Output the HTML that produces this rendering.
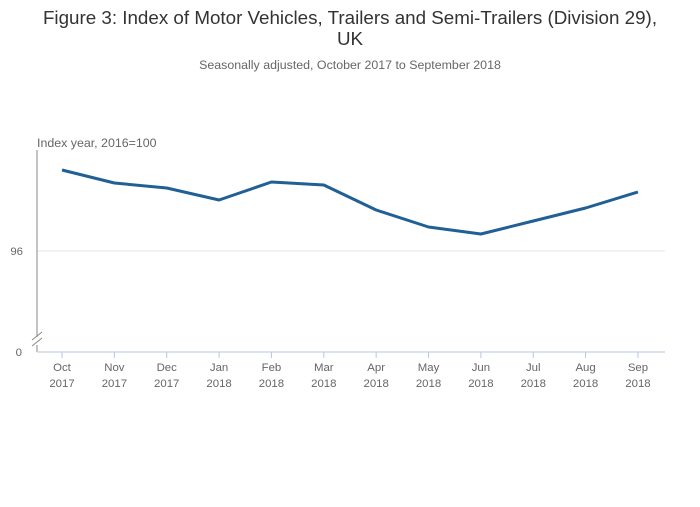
<!DOCTYPE html>
<html><head><meta charset="utf-8"><style>
body{margin:0;background:#fff;font-family:"Liberation Sans",sans-serif;}
svg text{font-family:"Liberation Sans",sans-serif;}
</style></head><body>
<svg width="700" height="502" viewBox="0 0 700 502">
<text x="350" y="24" text-anchor="middle" font-size="18.8" fill="#333">Figure 3: Index of Motor Vehicles, Trailers and Semi-Trailers (Division 29),</text>
<text x="350" y="45" text-anchor="middle" font-size="18.8" fill="#333">UK</text>
<text x="350" y="69" text-anchor="middle" font-size="12.4" fill="#666">Seasonally adjusted, October 2017 to September 2018</text>
<text x="37" y="147" font-size="12.4" fill="#666">Index year, 2016=100</text>
<g id="plot"></g>
</svg>
<script>
const categories=["Oct|2017","Nov|2017","Dec|2017","Jan|2018","Feb|2018","Mar|2018","Apr|2018","May|2018","Jun|2018","Jul|2018","Aug|2018","Sep|2018"];
const values=[97.62,97.36,97.26,97.02,97.38,97.32,96.82,96.48,96.34,96.6,96.86,97.18];
const yTicks=[96];
const NS="http://www.w3.org/2000/svg";
const g=document.getElementById('plot');
function x(i){return 62+i*52.36;}
function y(v){return 251-(v-96)*50;}
function mk(t,a){const e=document.createElementNS(NS,t);for(const k in a)e.setAttribute(k,a[k]);g.appendChild(e);return e;}
yTicks.forEach(t=>{
  const l=mk('line',{x1:37,x2:665,y1:y(t),y2:y(t),stroke:'#e6e6e6'});
  
  
  const tx=mk('text',{x:23,y:y(t)+4,'text-anchor':'end','font-size':11.4,fill:'#666'});tx.textContent=t;
  
  
});
const z=mk('text',{x:22,y:356,'text-anchor':'end','font-size':11.4,fill:'#666'});z.textContent='0';


const ya=mk('line',{x1:37,x2:37,y1:150,y2:337,stroke:'#888'});


const yb=mk('line',{x1:37,x2:37,y1:345,y2:352,stroke:'#888'});


[[0],[6]].forEach(d=>{const b=mk('line',{x1:32,y1:340+d[0],x2:42,y2:332+d[0],stroke:'#888'});

});
const xa=mk('line',{x1:37,x2:665,y1:352,y2:352,stroke:'#b7c7e0'});


categories.forEach((c,i)=>{
  const tk=mk('line',{x1:x(i),x2:x(i),y1:352,y2:358,stroke:'#b7c7e0'});
  
  
  const p=c.split('|');
  const t1=mk('text',{x:x(i),y:371,'text-anchor':'middle','font-size':11.4,fill:'#666'});t1.textContent=p[0];
  
  
  const t2=mk('text',{x:x(i),y:387,'text-anchor':'middle','font-size':11.4,fill:'#666'});t2.textContent=p[1];
  
  
});
const pl=mk('polyline',{points:values.map((v,i)=>x(i)+','+y(v)).join(' '),fill:'none',stroke:'#206095','stroke-width':3,'stroke-linejoin':'round'});


</script>
</body></html>
